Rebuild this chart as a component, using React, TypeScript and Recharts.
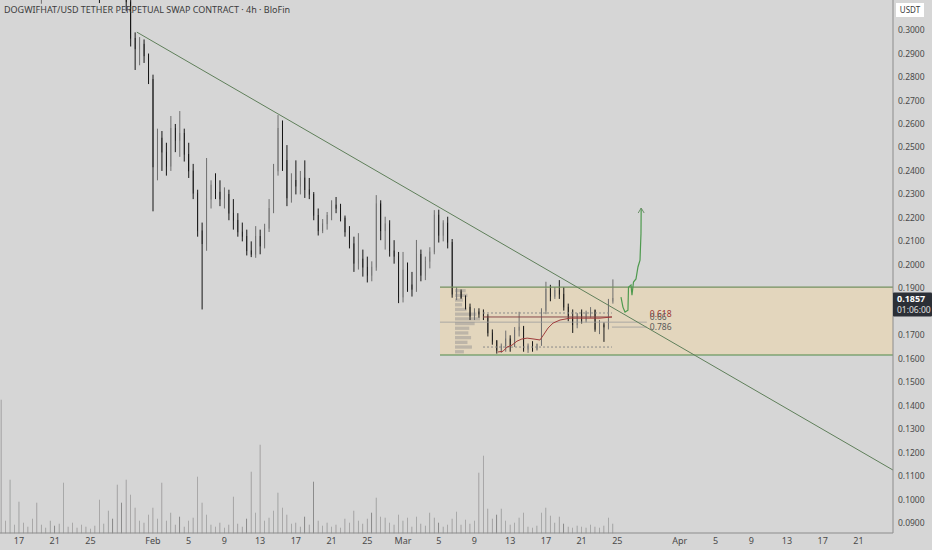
import React from 'react';
import {
  Bar,
  ComposedChart,
  Line,
  ReferenceArea,
  ReferenceDot,
  ReferenceLine,
  XAxis,
  YAxis,
} from 'recharts';

// time axis is in days since Jan 1, 12h candles
const candleStart = 14;
const candleStep = 0.5;

const tickDays = [16, 20, 24, 31, 35, 39, 43, 47, 51, 55, 59, 63, 67, 71, 75, 79, 83, 90, 94, 98, 102, 106, 110];
const tickLabels = ['17', '21', '25', 'Feb', '5', '9', '13', '17', '21', '25', 'Mar', '5', '9', '13', '17', '21', '25', 'Apr', '5', '9', '13', '17', '21'];

// 0.1800 sits under the last-price badge
const priceTicks = [0.09, 0.1, 0.11, 0.12, 0.13, 0.14, 0.15, 0.16, 0.17, 0.19, 0.2, 0.21, 0.22, 0.23, 0.24, 0.25, 0.26, 0.27, 0.28, 0.29, 0.3];

// [open, high, low, close]
const candles: number[][] = [
  [0.345, 0.352, 0.338, 0.34], [0.34, 0.344, 0.33, 0.333], [0.333, 0.34, 0.325, 0.337], [0.337, 0.345, 0.334, 0.342],
  [0.342, 0.35, 0.338, 0.346], [0.346, 0.349, 0.336, 0.339], [0.339, 0.343, 0.328, 0.331], [0.331, 0.336, 0.322, 0.325],
  [0.325, 0.33, 0.318, 0.322], [0.322, 0.328, 0.3112, 0.326], [0.326, 0.338, 0.324, 0.335], [0.335, 0.342, 0.331, 0.338],
  [0.338, 0.346, 0.334, 0.343], [0.343, 0.352, 0.34, 0.348], [0.348, 0.36, 0.345, 0.356], [0.356, 0.362, 0.348, 0.351],
  [0.351, 0.355, 0.34, 0.344], [0.344, 0.349, 0.336, 0.34], [0.34, 0.343, 0.33, 0.334], [0.334, 0.339, 0.326, 0.329],
  [0.329, 0.334, 0.321, 0.324], [0.324, 0.33, 0.318, 0.321], [0.321, 0.327, 0.3115, 0.318], [0.318, 0.329, 0.316, 0.326],
  [0.326, 0.334, 0.322, 0.33], [0.33, 0.336, 0.324, 0.327], [0.327, 0.331, 0.318, 0.322], [0.322, 0.326, 0.314, 0.318],
  [0.318, 0.322, 0.308, 0.312], [0.312, 0.314, 0.293, 0.2965],
  [0.2965, 0.299, 0.283, 0.292], [0.292, 0.297, 0.285, 0.294], [0.294, 0.296, 0.286, 0.289], [0.289, 0.29, 0.277, 0.279],
  [0.279, 0.281, 0.2228, 0.2417], [0.2417, 0.258, 0.236, 0.254], [0.254, 0.257, 0.24, 0.248], [0.248, 0.252, 0.238, 0.242],
  [0.242, 0.2634, 0.24, 0.258], [0.258, 0.26, 0.248, 0.253], [0.253, 0.2655, 0.246, 0.256], [0.256, 0.258, 0.244, 0.247],
  [0.247, 0.252, 0.237, 0.24], [0.24, 0.243, 0.228, 0.2305], [0.2305, 0.232, 0.212, 0.2145], [0.2145, 0.218, 0.181, 0.209],
  [0.209, 0.2455, 0.206, 0.228], [0.228, 0.236, 0.224, 0.234], [0.234, 0.239, 0.228, 0.231], [0.231, 0.236, 0.225, 0.228],
  [0.228, 0.233, 0.224, 0.23], [0.23, 0.232, 0.219, 0.222], [0.222, 0.228, 0.215, 0.219], [0.219, 0.222, 0.212, 0.214],
  [0.214, 0.218, 0.21, 0.212], [0.212, 0.215, 0.204, 0.206], [0.206, 0.21, 0.2033, 0.2045], [0.2045, 0.2165, 0.203, 0.212],
  [0.212, 0.215, 0.2045, 0.208], [0.208, 0.2175, 0.207, 0.2155], [0.2155, 0.228, 0.214, 0.224], [0.224, 0.243, 0.222, 0.24],
  [0.24, 0.2638, 0.238, 0.258], [0.258, 0.2615, 0.24, 0.2445], [0.2445, 0.251, 0.225, 0.2285], [0.2285, 0.239, 0.2265, 0.236],
  [0.236, 0.2445, 0.23, 0.2335], [0.2335, 0.24, 0.23, 0.237], [0.237, 0.2445, 0.2285, 0.232], [0.232, 0.237, 0.228, 0.23],
  [0.23, 0.231, 0.219, 0.221], [0.221, 0.224, 0.2125, 0.2145], [0.2145, 0.2195, 0.2135, 0.2175], [0.2175, 0.2225, 0.215, 0.221],
  [0.221, 0.2275, 0.219, 0.2255], [0.2255, 0.2289, 0.222, 0.224], [0.224, 0.226, 0.2185, 0.22], [0.22, 0.221, 0.212, 0.214],
  [0.214, 0.2165, 0.207, 0.209], [0.209, 0.212, 0.197, 0.2005], [0.2005, 0.2135, 0.198, 0.2025], [0.2025, 0.2065, 0.195, 0.199],
  [0.199, 0.2035, 0.1925, 0.1955], [0.1955, 0.2015, 0.193, 0.199], [0.199, 0.2297, 0.1975, 0.226], [0.226, 0.2275, 0.2105, 0.2145],
  [0.2145, 0.2205, 0.2065, 0.2175], [0.2175, 0.219, 0.2035, 0.206], [0.206, 0.2105, 0.2005, 0.2035], [0.2035, 0.2055, 0.1837, 0.1863],
  [0.1863, 0.2055, 0.184, 0.1978], [0.1978, 0.201, 0.1885, 0.1915], [0.1915, 0.197, 0.1865, 0.1895], [0.1895, 0.2106, 0.1885, 0.2045],
  [0.2045, 0.2065, 0.193, 0.1955], [0.1955, 0.2035, 0.1935, 0.2015], [0.2015, 0.2075, 0.1985, 0.2055], [0.2055, 0.2233, 0.2045, 0.2212],
  [0.2212, 0.2235, 0.2095, 0.2125], [0.2125, 0.219, 0.21, 0.2178], [0.2178, 0.2205, 0.207, 0.2095], [0.2095, 0.211, 0.186, 0.1875],
  [0.1875, 0.1905, 0.185, 0.1885], [0.1885, 0.1895, 0.1855, 0.186], [0.186, 0.187, 0.181, 0.182], [0.182, 0.1835, 0.1765, 0.178],
  [0.178, 0.1815, 0.1765, 0.18], [0.18, 0.1815, 0.1775, 0.179], [0.179, 0.181, 0.1765, 0.178], [0.178, 0.179, 0.1695, 0.171],
  [0.171, 0.1725, 0.166, 0.1675], [0.1675, 0.168, 0.1622, 0.1635], [0.1635, 0.1665, 0.1625, 0.1655], [0.1655, 0.172, 0.163, 0.1685],
  [0.1685, 0.17, 0.163, 0.1655], [0.1655, 0.1735, 0.165, 0.172], [0.172, 0.18, 0.1695, 0.1735], [0.1735, 0.174, 0.163, 0.164],
  [0.164, 0.1665, 0.1625, 0.1655], [0.1655, 0.1675, 0.163, 0.164], [0.164, 0.1665, 0.1635, 0.166], [0.166, 0.1815, 0.1655, 0.1805],
  [0.1805, 0.1928, 0.179, 0.1895], [0.1895, 0.1915, 0.1845, 0.1865], [0.1865, 0.1905, 0.1855, 0.189], [0.189, 0.1935, 0.1855, 0.1875],
  [0.1875, 0.1905, 0.1805, 0.182], [0.182, 0.1835, 0.176, 0.1775], [0.1775, 0.181, 0.171, 0.1745], [0.1745, 0.1795, 0.173, 0.179],
  [0.179, 0.181, 0.175, 0.1765], [0.1765, 0.1805, 0.1755, 0.1795], [0.1795, 0.182, 0.1775, 0.1805], [0.1805, 0.181, 0.1715, 0.1725],
  [0.1725, 0.1765, 0.1705, 0.1745], [0.1745, 0.1755, 0.1672, 0.1735], [0.1735, 0.1855, 0.1725, 0.1845], [0.1845, 0.1938, 0.1835, 0.1857],
];

const volumes = [
  133, 12, 53, 8, 31, 10, 6, 14, 30, 8,
  5, 12, 7, 9, 50, 6, 10, 5, 8, 6,
  4, 7, 33, 9, 22, 14, 48, 30, 53, 38,
  25, 12, 10, 18, 25, 14, 50, 12, 20, 8,
  16, 6, 12, 15, 56, 30, 18, 8, 6, 10,
  5, 8, 36, 9, 6, 14, 61, 20, 88, 12,
  15, 22, 40, 25, 18, 9, 10, 6, 16, 8,
  51, 12, 7, 10, 6, 8, 5, 14, 10, 22,
  12, 9, 14, 20, 35, 16, 15, 10, 8, 18,
  12, 15, 6, 16, 9, 7, 20, 15, 10, 6,
  8, 14, 21, 8, 13, 9, 12, 60, 77, 24,
  14, 18, 24, 12, 8, 10, 15, 20, 6, 5,
  7, 20, 25, 17, 10, 16, 9, 6, 5, 7,
  6, 5, 8, 6, 5, 7, 15, 9,
];

// projected move after the breakout
const projection = [
  { t: 83.41, p: 0.1863 }, { t: 83.63, p: 0.182 }, { t: 83.86, p: 0.1799 }, { t: 84.19, p: 0.1807 },
  { t: 84.25, p: 0.1905 }, { t: 84.53, p: 0.1914 }, { t: 84.64, p: 0.1871 }, { t: 84.81, p: 0.1927 },
  { t: 85.09, p: 0.194 }, { t: 85.31, p: 0.1991 }, { t: 85.54, p: 0.202 }, { t: 85.65, p: 0.2135 },
  { t: 85.67, p: 0.2242 },
];

const vwap = [
  { t: 69.64, p: 0.1629 }, { t: 70.2, p: 0.1632 }, { t: 70.65, p: 0.165 }, { t: 71.2, p: 0.1658 },
  { t: 71.76, p: 0.1675 }, { t: 72.3, p: 0.1684 }, { t: 72.9, p: 0.1688 }, { t: 73.67, p: 0.1684 },
  { t: 74.34, p: 0.168 }, { t: 74.79, p: 0.1705 }, { t: 75.24, p: 0.1731 }, { t: 75.8, p: 0.1752 },
  { t: 76.58, p: 0.1765 }, { t: 77.7, p: 0.1773 }, { t: 79.38, p: 0.1773 }, { t: 81.06, p: 0.1773 },
  { t: 82.4, p: 0.1778 },
];

// volume profile rows: [low, high, length in days]
const profile = [
  [0.188, 0.19, 1.2], [0.186, 0.188, 1.4], [0.184, 0.186, 0.9], [0.182, 0.184, 0.8],
  [0.18, 0.182, 1.3], [0.178, 0.18, 2.4], [0.176, 0.178, 2.8], [0.174, 0.176, 2.2],
  [0.172, 0.174, 1.6], [0.17, 0.172, 1.5], [0.168, 0.17, 1.8], [0.166, 0.168, 1.4],
  [0.164, 0.166, 1.9], [0.162, 0.164, 1.0],
];

const trendStart = { t: 29.2, p: 0.2991 };
const trendEnd = { t: 113.87, p: 0.1126 };
const rangeBox = { t0: 63.14, low: 0.1616, high: 0.1905 };
const profileStart = 64.82;
const fibStart = 67.96;
const fibEnd = 82.4;
const labelEnd = 86.3;
const lastPrice = 0.1857;

const xDomain = [13.87, 113.87];
const yDomain = [0.0858, 0.3128];

const rows = candles.map((k, i) => ({
  t: candleStart + i * candleStep,
  o: k[0],
  h: k[1],
  l: k[2],
  c: k[3],
  v: volumes[i],
}));

const UP = '#a9a9a9';
const UP_EDGE = '#6e6e6e';
const DOWN = '#161616';

const Candle = (props: any) => {
  let { x, y, width, height } = props;
  const { o, h, l, c } = props.payload;
  if (height < 0) {
    y += height;
    height = -height;
  }
  const ratio = height / (h - l || 1e-9);
  const yo = y + (h - o) * ratio;
  const yc = y + (h - c) * ratio;
  const up = c >= o;
  const cx = x + width / 2;
  return (
    <g>
      <line x1={cx} x2={cx} y1={y} y2={y + height} stroke={up ? UP_EDGE : DOWN} strokeWidth={1} />
      <rect
        x={x}
        y={Math.min(yo, yc)}
        width={width}
        height={Math.max(1, Math.abs(yo - yc))}
        fill={up ? UP : DOWN}
        stroke={up ? UP_EDGE : DOWN}
        strokeWidth={0.6}
      />
    </g>
  );
};

const VolumeBar = (props: any) => {
  const { x, y, width, height, payload } = props;
  if (!height || height <= 0) return <g />;
  const up = payload.c >= payload.o;
  return (
    <rect
      x={x}
      y={y}
      width={width}
      height={height}
      fill={up ? '#a9c6be' : '#c3a6ac'}
      stroke="#8c8c8c"
      strokeWidth={0.6}
    />
  );
};

const ArrowDot = (props: any) => {
  const { cx, cy, index } = props;
  if (index !== projection.length - 1) return <g key={index} />;
  return (
    <path key={index} d={`M${cx - 3},${cy + 5} L${cx},${cy} L${cx + 3},${cy + 5}`} fill="none" stroke="#6d8f6a" strokeWidth={1} />
  );
};

const PriceBadge = (props: any) => {
  const { x, y } = props.viewBox;
  return (
    <g>
      <rect x={x} y={y - 6} width={39} height={24} fill="#2b2f36" rx={1} />
      <text x={x + 4} y={y + 4} fill="#ffffff" fontSize={9} fontWeight={700}>{lastPrice.toFixed(4)}</text>
      <text x={x + 4} y={y + 14.5} fill="#e0e0e0" fontSize={8.5}>01:06:00</text>
    </g>
  );
};

const fibLabel = (text: string, color: string, dy: number) => ({
  value: text,
  position: 'right' as const,
  offset: 3,
  fill: color,
  fontSize: 8.5,
  dy,
});

export default function App() {
  return (
    <div
      style={{
        position: 'fixed',
        left: 0,
        top: 0,
        width: 932,
        height: 550,
        background: '#d6d6d6',
        fontFamily: '"Noto Sans", sans-serif',
        overflow: 'hidden',
      }}
    >
      <ComposedChart width={932} height={550} data={rows} margin={{ top: 0, right: 0, bottom: 0, left: 0 }}>
        <XAxis
          dataKey="t"
          type="number"
          domain={xDomain}
          allowDataOverflow
          ticks={tickDays}
          tickFormatter={(v: number) => tickLabels[tickDays.indexOf(v)] ?? ''}
          tick={{ fontSize: 9, fill: '#4a4a4a' }}
          tickLine={false}
          tickSize={3}
          height={17}
          axisLine={{ stroke: '#8c8c8c' }}
        />
        <YAxis
          yAxisId="price"
          orientation="right"
          domain={yDomain}
          allowDataOverflow
          ticks={priceTicks}
          tickFormatter={(v: number) => v.toFixed(4)}
          tick={{ fontSize: 8.5, fill: '#4a4a4a' }}
          tickLine={false}
          tickSize={3}
          tickMargin={2}
          width={39}
          axisLine={{ stroke: '#8c8c8c' }}
        />
        <YAxis yAxisId="vol" hide domain={[0, 533]} />

        <ReferenceArea
          yAxisId="price"
          x1={rangeBox.t0}
          x2={xDomain[1]}
          y1={rangeBox.low}
          y2={rangeBox.high}
          fill="#e3d6bd"
          fillOpacity={1}
          stroke="none"
        />
        <ReferenceLine yAxisId="price" segment={[{ x: rangeBox.t0, y: rangeBox.high }, { x: xDomain[1], y: rangeBox.high }]} stroke="#74905f" strokeWidth={1.2} />
        <ReferenceLine yAxisId="price" segment={[{ x: rangeBox.t0, y: rangeBox.low }, { x: xDomain[1], y: rangeBox.low }]} stroke="#4f8a48" strokeWidth={1.2} />

        {profile.map((r, i) => (
          <ReferenceArea
            key={`vp-${i}`}
            yAxisId="price"
            x1={profileStart}
            x2={profileStart + r[2]}
            y1={r[0] + 0.0003}
            y2={r[1] - 0.0003}
            fill="#8f8f8f"
            fillOpacity={0.45}
            stroke="none"
          />
        ))}

        <ReferenceLine yAxisId="price" segment={[{ x: fibStart, y: 0.1795 }, { x: fibEnd, y: 0.1795 }]} stroke="#8a8a8a" strokeDasharray="2 2" />
        <ReferenceLine yAxisId="price" segment={[{ x: fibStart, y: 0.1778 }, { x: fibEnd, y: 0.1778 }]} stroke="#8a4a4a" strokeWidth={1} />
        <ReferenceLine yAxisId="price" segment={[{ x: rangeBox.t0, y: 0.1756 }, { x: labelEnd, y: 0.1756 }]} stroke="#9a9a9a" strokeWidth={0.8} />
        <ReferenceLine yAxisId="price" segment={[{ x: fibEnd, y: 0.1735 }, { x: labelEnd, y: 0.1735 }]} stroke="#9a9a9a" strokeWidth={0.8} />
        <ReferenceLine yAxisId="price" segment={[{ x: fibStart, y: 0.165 }, { x: fibEnd, y: 0.165 }]} stroke="#8a8a8a" strokeDasharray="2 2" />

        <ReferenceLine
          yAxisId="price"
          segment={[{ x: trendStart.t, y: trendStart.p }, { x: trendEnd.t, y: trendEnd.p }]}
          stroke="#5f7f5a"
          strokeWidth={1}
        />

        <Bar yAxisId="vol" dataKey="v" barSize={2} shape={VolumeBar} isAnimationActive={false} />
        <Bar
          yAxisId="price"
          dataKey={(d: any) => [d.l, d.h]}
          barSize={3}
          shape={Candle}
          isAnimationActive={false}
        />

        <Line
          yAxisId="price"
          data={vwap}
          dataKey="p"
          type="linear"
          stroke="#a03c3c"
          strokeWidth={1}
          dot={false}
          activeDot={false}
          isAnimationActive={false}
        />
        <Line
          yAxisId="price"
          data={projection}
          dataKey="p"
          type="linear"
          stroke="#4e9a4e"
          strokeWidth={1.2}
          dot={ArrowDot}
          activeDot={false}
          isAnimationActive={false}
        />

        <ReferenceDot yAxisId="price" x={labelEnd} y={0.1795} r={0} fill="none" stroke="none" label={fibLabel('0.618', '#9a3434', 1)} />
        <ReferenceDot yAxisId="price" x={labelEnd} y={0.1778} r={0} fill="none" stroke="none" label={fibLabel('0.66', '#5a5a5a', 0)} />
        <ReferenceDot yAxisId="price" x={labelEnd} y={0.1735} r={0} fill="none" stroke="none" label={fibLabel('0.786', '#5a5a5a', 0)} />

        <ReferenceDot
          yAxisId="price"
          x={xDomain[1]}
          y={lastPrice}
          r={0}
          fill="none"
          stroke="none"
          ifOverflow="visible"
          label={<PriceBadge />}
        />
      </ComposedChart>
      <div style={{ position: 'absolute', left: 4, top: 3, fontSize: 9, color: '#3c3c3c', whiteSpace: 'nowrap' }}>
        DOGWIFHAT/USD TETHER PERPETUAL SWAP CONTRACT · 4h · BloFin
      </div>
      <div
        style={{
          position: 'absolute',
          left: 896,
          top: 3,
          width: 28,
          height: 14,
          background: '#ffffff',
          fontSize: 8,
          color: '#3c3c3c',
          textAlign: 'center',
          lineHeight: '14px',
        }}
      >
        USDT
      </div>
    </div>
  );
}
